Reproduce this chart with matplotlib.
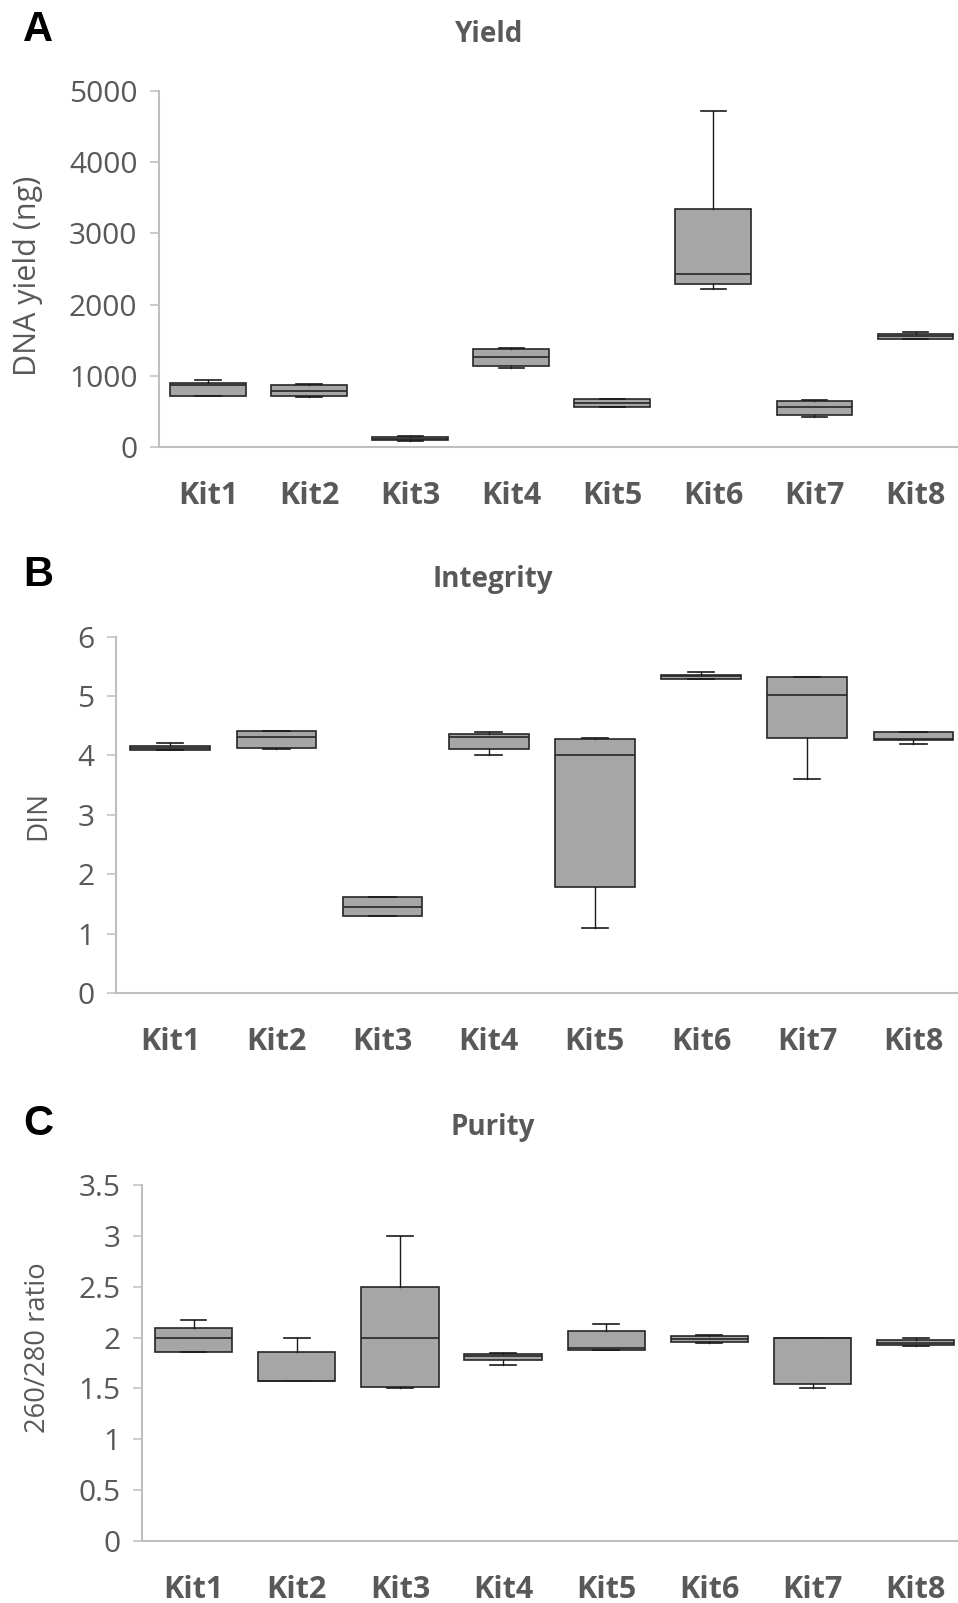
import matplotlib
matplotlib.use("Agg")
import matplotlib.pyplot as plt

plt.rcParams['font.family'] = ['Open Sans', 'DejaVu Sans']

kits = ["Kit1", "Kit2", "Kit3", "Kit4", "Kit5", "Kit6", "Kit7", "Kit8"]

# Yield (ng): min, q1, median, q3, max
yield_min = [710, 707, 88, 1110, 557, 2214, 421, 1512]
yield_q1  = [720, 720, 98, 1138, 565, 2294, 449, 1517]
yield_med = [875, 787, 115, 1269, 623, 2425, 562, 1554]
yield_q3  = [900, 866, 135, 1372, 672, 3347, 641, 1592]
yield_max = [935, 880, 152, 1395, 680, 4714, 665, 1610]

# Integrity (DIN)
din_min = [4.09, 4.11, 1.30, 4.00, 1.10, 5.29, 3.61, 4.20]
din_q1  = [4.09, 4.12, 1.30, 4.11, 1.78, 5.29, 4.30, 4.26]
din_med = [4.13, 4.31, 1.45, 4.31, 4.00, 5.33, 5.01, 4.27]
din_q3  = [4.16, 4.41, 1.61, 4.36, 4.28, 5.36, 5.32, 4.40]
din_max = [4.21, 4.41, 1.61, 4.40, 4.30, 5.41, 5.32, 4.40]

# Purity (260/280)
pur_min = [1.86, 1.57, 1.50, 1.73, 1.88, 1.95, 1.50, 1.92]
pur_q1  = [1.86, 1.57, 1.51, 1.78, 1.88, 1.96, 1.54, 1.93]
pur_med = [2.00, 1.57, 2.00, 1.82, 1.90, 1.99, 2.00, 1.95]
pur_q3  = [2.09, 1.86, 2.50, 1.84, 2.06, 2.02, 2.00, 1.98]
pur_max = [2.17, 2.00, 3.00, 1.85, 2.13, 2.03, 2.00, 2.00]

GREY_TXT = "#595959"
SPINE = "#bfbfbf"


def draw_panel(rect, mins, q1s, meds, q3s, maxs, yticks, yticklabels, ylabel,
               ylabel_size, xlim, title, title_xy, letter, letter_xy, ylabel_xy):
    ax = fig.add_axes(rect)
    stats = [dict(whislo=a, q1=b, med=c, q3=d, whishi=e, fliers=[], label=k)
             for a, b, c, d, e, k in zip(mins, q1s, meds, q3s, maxs, kits)]
    ax.bxp(stats, positions=range(1, 9), widths=0.75, capwidths=0.25,
           patch_artist=True, showfliers=False,
           boxprops=dict(facecolor="#a6a6a6", edgecolor="#262626", linewidth=1.2),
           medianprops=dict(color="#262626", linewidth=1.2),
           whiskerprops=dict(color="#1a1a1a", linewidth=1.0),
           capprops=dict(color="#1a1a1a", linewidth=1.2))
    ax.set_xlim(*xlim)
    ax.set_ylim(yticks[0], yticks[-1])
    ax.set_yticks(yticks)
    ax.set_yticklabels(yticklabels)
    ax.set_xticks(range(1, 9))
    ax.set_xticklabels(kits, fontweight="bold", fontsize=22, color=GREY_TXT)
    ax.tick_params(axis="x", length=0, pad=24.5)
    ax.tick_params(axis="y", length=6.5, width=1.1, color=SPINE, pad=9,
                   labelsize=21.5, labelcolor=GREY_TXT)
    for s in ["top", "right"]:
        ax.spines[s].set_visible(False)
    for s in ["left", "bottom"]:
        ax.spines[s].set_color(SPINE)
        ax.spines[s].set_linewidth(1.5)
    fig.text(title_xy[0] / W, 1 - title_xy[1] / H, title, ha="center", va="center",
             fontsize=20, fontweight="bold", color=GREY_TXT)
    fig.text(letter_xy[0] / W, 1 - letter_xy[1] / H, letter, ha="center", va="center",
             fontsize=30, fontweight="bold", color="black", family="Liberation Sans")
    fig.text(ylabel_xy[0] / W, 1 - ylabel_xy[1] / H, ylabel, ha="center", va="center",
             rotation=90, fontsize=ylabel_size, color=GREY_TXT)
    return ax


W, H = 958, 1603
fig = plt.figure(figsize=(W / 100, H / 100), dpi=100)

draw_panel([159 / W, 1 - 447 / H, 1 - 159 / W, (447 - 91) / H],
           yield_min, yield_q1, yield_med, yield_q3, yield_max,
           [0, 1000, 2000, 3000, 4000, 5000],
           ["0", "1000", "2000", "3000", "4000", "5000"],
           "DNA yield (ng)", 22, (0.515, 8.42), "Yield", (489, 34),
           "A", (38, 30), (28, 276))

draw_panel([116 / W, 1 - 993 / H, 1 - 116 / W, (993 - 636.7) / H],
           din_min, din_q1, din_med, din_q3, din_max,
           [0, 1, 2, 3, 4, 5, 6],
           ["0", "1", "2", "3", "4", "5", "6"],
           "DIN", 20, (0.49, 8.42), "Integrity", (493, 580),
           "B", (38, 575), (38, 815))

draw_panel([142 / W, 1 - 1541 / H, 1 - 142 / W, (1541 - 1185) / H],
           pur_min, pur_q1, pur_med, pur_q3, pur_max,
           [0, 0.5, 1, 1.5, 2, 2.5, 3, 3.5],
           ["0", "0.5", "1", "1.5", "2", "2.5", "3", "3.5"],
           "260/280 ratio", 19.7, (0.5, 8.41), "Purity", (493, 1128),
           "C", (38, 1124), (38, 1348))

fig.savefig("out.png", dpi=100, facecolor="white")
